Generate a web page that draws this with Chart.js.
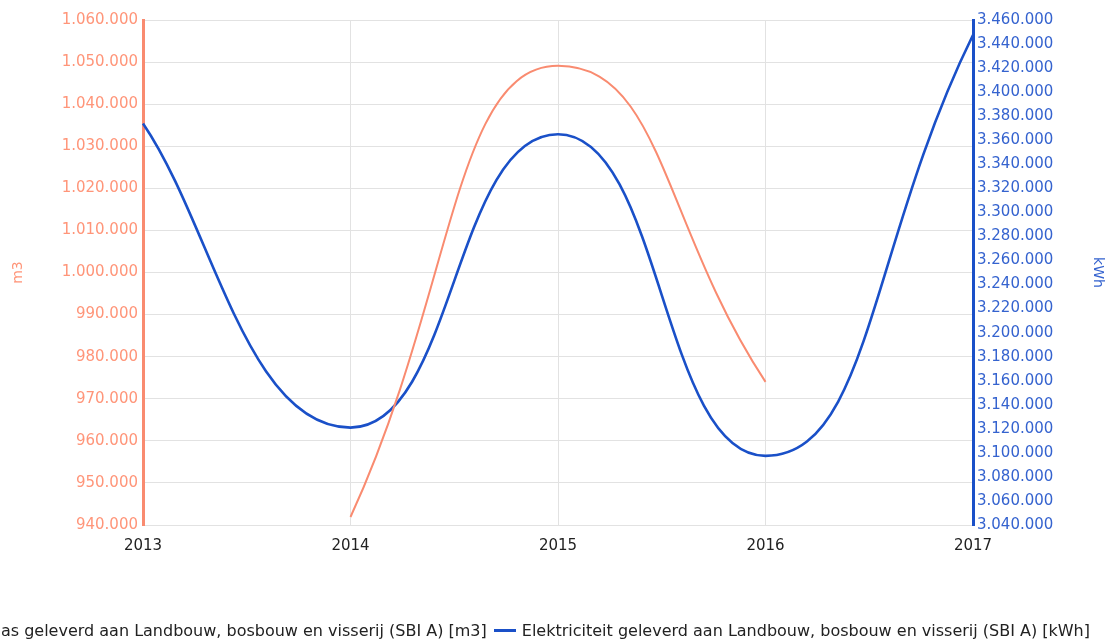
<!DOCTYPE html>
<html lang="nl">
<head>
  <meta charset="UTF-8">
  <title>Gas en elektriciteit Landbouw, bosbouw en visserij</title>
  <script src="https://cdn.jsdelivr.net/npm/chart.js"></script>
  <style>
    html, body { margin: 0; padding: 0; background: #fff; overflow: hidden; }
    #wrap { position: relative; width: 1110px; height: 640px; }
    #legend {
      position: absolute; right: 20px; top: 621px;
      white-space: nowrap; font: 16px "DejaVu Sans", sans-serif; color: #222;
    }
    #legend span.item { margin-left: 7px; }
    #legend i {
      display: inline-block; width: 22px; height: 3px; vertical-align: middle;
      margin-right: 6px; position: relative; top: -1px;
    }
  </style>
</head>
<body>
  <div id="wrap">
    <canvas id="chart" width="1110" height="640"></canvas>
    <div id="legend"></div>
  </div>

  <script>
    // data
    const years = ['2013', '2014', '2015', '2016', '2017'];
    const gasValues = [null, 941900, 1049100, 974000, null];          // m3
    const elecValues = [3374000, 3121000, 3365000, 3097500, 3447500]; // kWh

    const gasLabel = 'Aardgas geleverd aan Landbouw, bosbouw en visserij (SBI A) [m3]';
    const elecLabel = 'Elektriciteit geleverd aan Landbouw, bosbouw en visserij (SBI A) [kWh]';

    const gasAxis = { min: 940000, max: 1060000, step: 10000 };
    const elecAxis = { min: 3040000, max: 3460000, step: 20000 };

    const gasColor = '#f98b70';
    const elecColor = '#1a50c8';
    const FONT = '"DejaVu Sans", sans-serif';

    function dots(v) {
      return String(Math.round(v)).replace(/\B(?=(\d{3})+(?!\d))/g, '.');
    }

    // the original curves are flatter at the turns than chart.js monotone,
    // so push the bezier handles out a bit (1/3 -> 1/2 of the gap)
    const flatterCurves = {
      id: 'flatterCurves',
      beforeDatasetsDraw(chart) {
        chart.data.datasets.forEach((ds, i) => {
          const meta = chart.getDatasetMeta(i);
          const line = meta.dataset;
          if (!line || line._flattened) return;
          line.updateControlPoints(chart.chartArea, 'x');
          meta.data.forEach(p => {
            if (p.skip || p.cp1x === undefined) return;
            p.cp1x = p.x + (p.cp1x - p.x) * 1.5;
            p.cp1y = p.y + (p.cp1y - p.y) * 1.5;
            p.cp2x = p.x + (p.cp2x - p.x) * 1.5;
            p.cp2y = p.y + (p.cp2y - p.y) * 1.5;
          });
          line._flattened = true;
        });
      }
    };

    const ctx = document.getElementById('chart').getContext('2d');
    new Chart(ctx, {
      type: 'line',
      data: {
        labels: years,
        datasets: [
          {
            label: gasLabel,
            data: gasValues,
            yAxisID: 'yGas',
            borderColor: gasColor,
            borderWidth: 2,
            pointRadius: 0,
            cubicInterpolationMode: 'monotone'
          },
          {
            label: elecLabel,
            data: elecValues,
            yAxisID: 'yElec',
            borderColor: elecColor,
            borderWidth: 2.6,
            pointRadius: 0,
            cubicInterpolationMode: 'monotone'
          }
        ]
      },
      plugins: [flatterCurves],
      options: {
        responsive: false,
        animation: false,
        layout: { padding: { top: 20, left: 0, right: 0, bottom: 0 } },
        plugins: { legend: { display: false }, tooltip: { enabled: false } },
        scales: {
          x: {
            offset: false,
            grid: { color: '#e2e2e2', drawTicks: false },
            border: { display: false },
            ticks: { color: '#222', padding: 12, font: { family: FONT, size: 15 }, maxRotation: 0 },
            afterFit: s => { s.height = 115; }
          },
          yGas: {
            position: 'left',
            min: gasAxis.min, max: gasAxis.max,
            grid: { color: '#e2e2e2', drawTicks: false },
            border: { color: gasColor, width: 3 },
            ticks: {
              stepSize: gasAxis.step, color: '#ff9579', padding: 5,
              font: { family: FONT, size: 15 }, callback: v => dots(v)
            },
            title: { display: true, text: 'm3', color: '#ff9579', font: { family: FONT, size: 14 }, padding: { top: 10, bottom: 0 } },
            afterFit: s => { s.width = 143; }
          },
          yElec: {
            position: 'right',
            min: elecAxis.min, max: elecAxis.max,
            grid: { display: false, drawTicks: false },
            border: { color: elecColor, width: 3 },
            ticks: {
              stepSize: elecAxis.step, color: '#3563cf', padding: 4,
              font: { family: FONT, size: 15 }, callback: v => dots(v)
            },
            title: { display: true, text: 'kWh', color: '#3563cf', font: { family: FONT, size: 14 }, padding: { top: 4, bottom: 0 } },
            afterFit: s => { s.width = 137; }
          }
        }
      }
    });

    // html legend (runs off the left edge like the original)
    const legend = document.getElementById('legend');
    [[gasLabel, gasColor], [elecLabel, elecColor]].forEach(([text, color]) => {
      const span = document.createElement('span');
      span.className = 'item';
      span.innerHTML = '<i style="background:' + color + '"></i>' + text;
      legend.appendChild(span);
    });
  </script>
</body>
</html>
